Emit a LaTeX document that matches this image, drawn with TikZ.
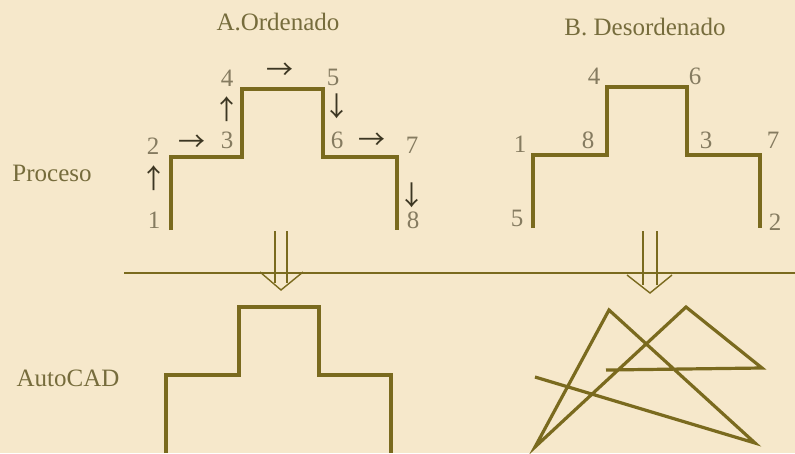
\documentclass[tikz,border=0pt]{standalone}
\usepackage{fontspec}
\setmainfont{Liberation Serif}
\newfontfamily\arrfont{Noto Sans CJK SC}
\definecolor{bg}{HTML}{F6E8CB}
\definecolor{ln}{HTML}{7A6A1E}
\definecolor{tx}{HTML}{766C3C}
\definecolor{num}{HTML}{857B60}
\definecolor{arr}{HTML}{3C3622}
\begin{document}
\begin{tikzpicture}[x=1pt,y=-1pt,
  every node/.style={inner sep=0pt,font=\fontsize{25}{27}\selectfont},
  word/.style={text=tx},
  numlab/.style={text=num},
  arrlab/.style={text=arr,font=\arrfont\fontsize{27}{29}\selectfont},
  outline/.style={draw=ln,line width=3.6pt,line join=miter},
  divline/.style={draw=ln,line width=1.4pt},
]
\fill[bg] (0,0) rectangle (795,453);
\useasboundingbox (0,0) rectangle (795,453);

% titles
\node[word] (tA) at (278,22) {A.Ordenado};
\node[word] (tB) at (645,27) {B. Desordenado};
\node[word] (tP) at (52,173) {Proceso};
\node[word] (tC) at (68,378) {AutoCAD};

% ordered shape
\coordinate (a1) at (171,230); \coordinate (a2) at (171,157);
\coordinate (a3) at (242,157); \coordinate (a4) at (242,89);
\coordinate (a5) at (323,89);  \coordinate (a6) at (323,157);
\coordinate (a7) at (397,157); \coordinate (a8) at (397,230);
\draw[outline] (a1)--(a2)--(a3)--(a4)--(a5)--(a6)--(a7)--(a8);
\node[numlab] (n1) at (154,220) {1};
\node[numlab] (n2) at (153,146) {2};
\node[numlab] (n3) at (227,140) {3};
\node[numlab] (n4) at (227,78) {4};
\node[numlab] (n5) at (333,77) {5};
\node[numlab] (n6) at (337,140) {6};
\node[numlab] (n7) at (412,145) {7};
\node[numlab] (n8) at (413,220) {8};
\node[arrlab] (r1) at (154,178) {↑};
\node[arrlab] (r2) at (192,143) {→};
\node[arrlab] (r3) at (227,109) {↑};
\node[arrlab] (r4) at (280,71) {→};
\node[arrlab] (r5) at (337,106) {↓};
\node[arrlab] (r6) at (372,141) {→};
\node[arrlab] (r7) at (412,195) {↓};

% disordered shape
\coordinate (b5) at (533,228); \coordinate (b1) at (533,155);
\coordinate (b8) at (607,155); \coordinate (b4) at (607,87);
\coordinate (b6) at (687,87);  \coordinate (b3) at (687,155);
\coordinate (b7) at (760,155); \coordinate (b2) at (760,228);
\draw[outline] (b5)--(b1)--(b8)--(b4)--(b6)--(b3)--(b7)--(b2);
\node[numlab] (m4) at (594,76) {4};
\node[numlab] (m6) at (695,76) {6};
\node[numlab] (m1) at (520,144) {1};
\node[numlab] (m8) at (588,140) {8};
\node[numlab] (m3) at (706,140) {3};
\node[numlab] (m7) at (773,140) {7};
\node[numlab] (m5) at (517,218) {5};
\node[numlab] (m2) at (775,222) {2};

% divider
\coordinate (hL) at (124,273); \coordinate (hR) at (795,273);
\draw[divline] (hL)--(hR);

% double arrows
\coordinate (pA1) at (275,231); \coordinate (pA2) at (287,231);
\coordinate (qA1) at (275,283); \coordinate (qA2) at (287,283);
\coordinate (vAl) at (260,272); \coordinate (vAt) at (281,290); \coordinate (vAr) at (303,272);
\draw[divline] (pA1)--(qA1) (pA2)--(qA2);
\draw[divline] (vAl)--(vAt)--(vAr);
\coordinate (pB1) at (643,231); \coordinate (pB2) at (657,231);
\coordinate (qB1) at (643,285); \coordinate (qB2) at (657,285);
\coordinate (vBl) at (627,275); \coordinate (vBt) at (650,293); \coordinate (vBr) at (672,275);
\draw[divline] (pB1)--(qB1) (pB2)--(qB2);
\draw[divline] (vBl)--(vBt)--(vBr);

% AutoCAD ordered
\coordinate (c1) at (166,453); \coordinate (c2) at (166,375);
\coordinate (c3) at (239,375); \coordinate (c4) at (239,307);
\coordinate (c5) at (319,307); \coordinate (c6) at (319,375);
\coordinate (c7) at (391,375); \coordinate (c8) at (391,453);
\draw[outline] (c1)--(c2)--(c3)--(c4)--(c5)--(c6)--(c7)--(c8);

% AutoCAD disordered
\coordinate (dG) at (606,370); \coordinate (dC) at (762,368);
\coordinate (dB) at (686,307); \coordinate (dD) at (535,447);
\coordinate (dA) at (609,310); \coordinate (dE) at (755,443);
\coordinate (dF) at (535,377);
\draw[outline,line width=3.2pt] (dG)--(dC)--(dB)--(dD)--(dA)--(dE)--(dF);
\end{tikzpicture}
\end{document}
